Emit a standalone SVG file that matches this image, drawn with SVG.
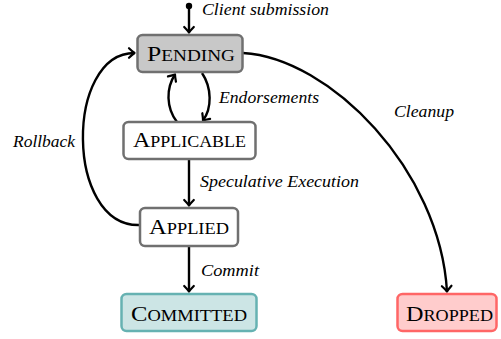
<svg xmlns="http://www.w3.org/2000/svg" width="501" height="339" viewBox="0 0 501 339">
<style>
.node rect{stroke:#707070;stroke-width:2.5;fill:#ffffff}
.nt{font-family:'Liberation Serif','Times New Roman','DejaVu Serif',serif;fill:#000}
.big{font-size:22px}
.sm{font-size:16.5px}
.lbl{font-family:'Liberation Serif','Times New Roman','DejaVu Serif',serif;font-style:italic;font-size:17px;fill:#000}
.edge{fill:none;stroke:#000;stroke-width:2.4}
</style>
<defs>
<marker id="arr" markerUnits="userSpaceOnUse" markerWidth="12" markerHeight="12" refX="0" refY="0" orient="auto" overflow="visible">
<path d="M-5.5,-4.8 Q-1.8,-1.2 0,0 Q-1.8,1.2 -5.5,4.8" fill="none" stroke="#000" stroke-width="2.2" stroke-linecap="round" stroke-linejoin="round"/>
</marker>
</defs>
<g id="connectors">
<circle cx="189" cy="6" r="3.2" fill="#000"/>
<path class="edge" d="M189,6 L189,32.5" marker-end="url(#arr)"/>
<path class="edge" d="M177,122 C166,108 166,88 175,74.5" marker-end="url(#arr)"/>
<path class="edge" d="M202,73 C212,88 212,108 203,120.5" marker-end="url(#arr)"/>
<path class="edge" d="M189,160 L189,205.5" marker-end="url(#arr)"/>
<path class="edge" d="M189,247 L189,291.5" marker-end="url(#arr)"/>
<path class="edge" d="M139,225 C65,226 65,53 134.5,53" marker-end="url(#arr)"/>
<path class="edge" d="M243,53 C330,58 440,170 447,291.5" marker-end="url(#arr)"/>
<text class="lbl" font-family="Liberation Serif, serif" font-style="italic" x="202" y="15" textLength="127" lengthAdjust="spacingAndGlyphs">Client submission</text>
<text class="lbl" font-family="Liberation Serif, serif" font-style="italic" x="219" y="103" textLength="100" lengthAdjust="spacingAndGlyphs">Endorsements</text>
<text class="lbl" font-family="Liberation Serif, serif" font-style="italic" x="13" y="147" textLength="62" lengthAdjust="spacingAndGlyphs">Rollback</text>
<text class="lbl" font-family="Liberation Serif, serif" font-style="italic" x="200" y="187" textLength="159" lengthAdjust="spacingAndGlyphs">Speculative Execution</text>
<text class="lbl" font-family="Liberation Serif, serif" font-style="italic" x="201" y="276" textLength="58" lengthAdjust="spacingAndGlyphs">Commit</text>
<text class="lbl" font-family="Liberation Serif, serif" font-style="italic" x="394" y="117" textLength="60" lengthAdjust="spacingAndGlyphs">Cleanup</text>
</g>
<g id="node-pending" class="node">
<rect x="137.5" y="35" width="105" height="37" rx="5" style="fill:#c8c8c8"/>
<text class="nt" font-family="Liberation Serif, serif" x="147" y="61" textLength="88" lengthAdjust="spacingAndGlyphs"><tspan class="big">P</tspan><tspan class="sm">ENDING</tspan></text>
</g>
<g id="node-applicable" class="node">
<rect x="123.5" y="122" width="132" height="37" rx="5"/>
<text class="nt" font-family="Liberation Serif, serif" x="133" y="147" textLength="113" lengthAdjust="spacingAndGlyphs"><tspan class="big">A</tspan><tspan class="sm">PPLICABLE</tspan></text>
</g>
<g id="node-applied" class="node">
<rect x="140" y="208" width="98" height="38" rx="5"/>
<text class="nt" font-family="Liberation Serif, serif" x="149" y="234" textLength="80" lengthAdjust="spacingAndGlyphs"><tspan class="big">A</tspan><tspan class="sm">PPLIED</tspan></text>
</g>
<g id="node-committed" class="node">
<rect x="121.5" y="294" width="135" height="37" rx="5" style="fill:#cce5e5;stroke:#66b2b2"/>
<text class="nt" font-family="Liberation Serif, serif" x="131" y="321" textLength="116" lengthAdjust="spacingAndGlyphs"><tspan class="big">C</tspan><tspan class="sm">OMMITTED</tspan></text>
</g>
<g id="node-dropped" class="node">
<rect x="397.5" y="294" width="99" height="37" rx="5" style="fill:#ffcccc;stroke:#ff6666"/>
<text class="nt" font-family="Liberation Serif, serif" x="406" y="321" textLength="87" lengthAdjust="spacingAndGlyphs"><tspan class="big">D</tspan><tspan class="sm">ROPPED</tspan></text>
</g>
</svg>
